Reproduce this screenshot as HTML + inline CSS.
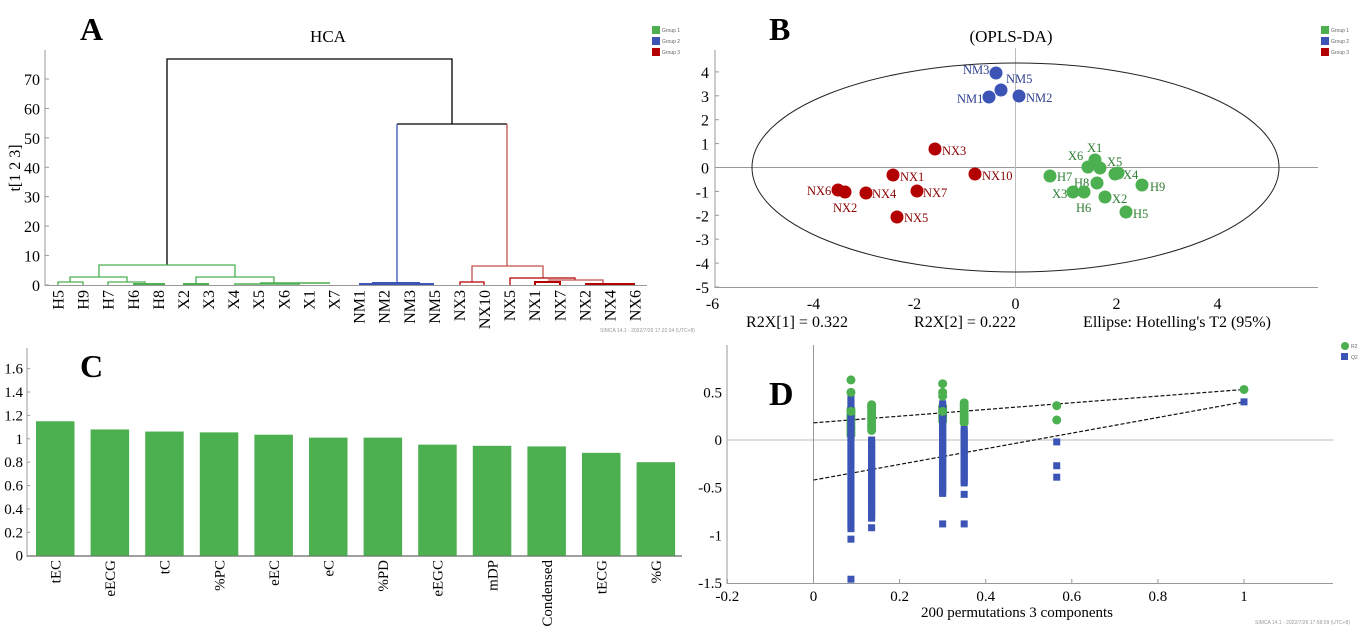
<!DOCTYPE html>
<html><head><meta charset="utf-8">
<style>
html,body{margin:0;padding:0;background:#fff;}
svg{display:block;font-family:"Liberation Serif",serif;}
</style></head>
<body>
<svg id="s" width="1367" height="626" viewBox="0 0 1367 626" xmlns="http://www.w3.org/2000/svg">
<rect width="1367" height="626" fill="#fff"/>

<!-- ===== Panel A ===== -->
<text x="80" y="40" font-size="32" font-weight="bold">A</text>
<text x="328" y="42" font-size="17" text-anchor="middle">HCA</text>
<g font-family="Liberation Sans,sans-serif" font-size="5" fill="#666">
<rect x="652" y="26" width="8" height="8" fill="#4caf50"/><text x="662" y="32">Group 1</text>
<rect x="652" y="37" width="8" height="8" fill="#3b54b5"/><text x="662" y="43">Group 2</text>
<rect x="652" y="48" width="8" height="8" fill="#b30000"/><text x="662" y="54">Group 3</text>
</g>
<line x1="45" y1="50" x2="45" y2="286" stroke="#999" stroke-width="1"/>
<line x1="45" y1="285.5" x2="647" y2="285.5" stroke="#999" stroke-width="1"/>
<g font-size="16" text-anchor="end" id="aticks"></g>
<text transform="translate(20,168) rotate(-90)" font-size="16" text-anchor="middle">t[1 2 3]</text>
<g fill="none" stroke-width="1.3">
<path d="M167 265 V59 H452 V124" stroke="#000"/>
<path d="M397 283 V124 H507 V266" stroke="#000" stroke-width="0"/>
<path d="M397 124 H507" stroke="#000"/>
<path d="M397 124 V283" stroke="#3b54b5"/>
<path d="M507 124 V266" stroke="#c0504d"/>
<path d="M99 277 V265 H235 V277" stroke="#4caf50"/>
<path d="M70 282 V277 H127 V282" stroke="#4caf50"/>
<path d="M58 285 V282 H83 V285" stroke="#4caf50"/>
<path d="M108 285 V282 H145 V285" stroke="#4caf50"/>
<path d="M133 284 H165" stroke="#4caf50" stroke-width="2"/>
<path d="M196 284 V277 H274 V283" stroke="#4caf50"/>
<path d="M184 285 V284 H209" stroke="#4caf50" stroke-width="2"/>
<path d="M234 284 H300 M260 283 H330" stroke="#4caf50" stroke-width="1.6"/>
<path d="M359 284 H434 M372 283 H420" stroke="#3b54b5" stroke-width="2"/>
<path d="M472 282 V266 H543 V278" stroke="#c0504d"/>
<path d="M460 285 V282 H484 V285" stroke="#b30000"/>
<path d="M510 285 V278 H575 V280" stroke="#b30000"/>
<path d="M548 280 H603 V283" stroke="#c0504d"/>
<path d="M535 285 V282 H560 V285" stroke="#b30000" stroke-width="2"/>
<path d="M585 284 H635" stroke="#b30000" stroke-width="2"/>
</g>
<g font-size="16" id="aleaves"></g>
<text x="600" y="332" font-size="5" fill="#999" font-family="Liberation Sans,sans-serif">SIMCA 14.1 - 2022/7/26 17:22:34 (UTC+8)</text>

<!-- ===== Panel B ===== -->
<text x="769" y="40" font-size="32" font-weight="bold">B</text>
<text x="1011" y="42" font-size="17" text-anchor="middle">(OPLS-DA)</text>
<g font-family="Liberation Sans,sans-serif" font-size="5" fill="#666">
<rect x="1321" y="26" width="8" height="8" fill="#4caf50"/><text x="1331" y="32">Group 1</text>
<rect x="1321" y="37" width="8" height="8" fill="#3b54b5"/><text x="1331" y="43">Group 2</text>
<rect x="1321" y="48" width="8" height="8" fill="#b30000"/><text x="1331" y="54">Group 3</text>
</g>
<line x1="715" y1="50" x2="715" y2="288" stroke="#999"/>
<line x1="715" y1="287.5" x2="1318" y2="287.5" stroke="#999"/>
<line x1="715" y1="167.5" x2="1318" y2="167.5" stroke="#999"/>
<line x1="1015.5" y1="48" x2="1015.5" y2="288" stroke="#bbb"/>
<ellipse cx="1015.5" cy="167.5" rx="263.5" ry="104.5" fill="none" stroke="#222" stroke-width="1"/>
<g font-size="16" id="bticks"></g>
<g font-size="16" text-anchor="middle">
<text x="797" y="327">R2X[1] = 0.322</text>
<text x="965" y="327">R2X[2] = 0.222</text>
<text x="1177" y="327">Ellipse: Hotelling's T2 (95%)</text>
</g>
<g id="bpts"></g>

<!-- ===== Panel C ===== -->
<text x="80" y="377" font-size="32" font-weight="bold">C</text>
<line x1="27" y1="348" x2="27" y2="557" stroke="#999"/>
<line x1="27" y1="556" x2="682" y2="556" stroke="#666" stroke-width="1.2"/>
<g font-size="15" id="cticks"></g>
<g id="cbars"></g>

<!-- ===== Panel D ===== -->
<text x="769" y="405" font-size="34" font-weight="bold">D</text>
<g font-family="Liberation Sans,sans-serif" font-size="5" fill="#666">
<circle cx="1345" cy="346" r="4" fill="#4caf50"/><text x="1351" y="348">R2</text>
<rect x="1341" y="353" width="7" height="7" fill="#3b54b5"/><text x="1351" y="359">Q2</text>
</g>
<line x1="727" y1="345" x2="727" y2="584" stroke="#999"/>
<line x1="727" y1="583.5" x2="1333" y2="583.5" stroke="#999"/>
<line x1="727" y1="440" x2="1333" y2="440" stroke="#bbb"/>
<line x1="813.5" y1="345" x2="813.5" y2="584" stroke="#999"/>
<g font-size="15" id="dticks"></g>
<text x="1017" y="617" font-size="15" text-anchor="middle">200 permutations 3 components</text>
<g id="dpts"></g>
<text x="1255" y="624" font-size="5" fill="#999" font-family="Liberation Sans,sans-serif">SIMCA 14.1 - 2022/7/26 17:58:09 (UTC+8)</text>
</svg>
<script>
var NS="http://www.w3.org/2000/svg";
function el(p,t,a,txt){var e=document.createElementNS(NS,t);for(var k in a)e.setAttribute(k,a[k]);if(txt!=null)e.textContent=txt;document.getElementById(p).appendChild(e);return e;}
// A ticks
for(var v=0;v<=70;v+=10){var y=285-v*2.943;el("aticks","text",{x:40,y:y+6},String(v));el("aticks","line",{x1:45,y1:y,x2:49,y2:y,stroke:"#999"});}
var leaves=["H5","H9","H7","H6","H8","X2","X3","X4","X5","X6","X1","X7","NM1","NM2","NM3","NM5","NX3","NX10","NX5","NX1","NX7","NX2","NX4","NX6"];
leaves.forEach(function(n,i){var x=58+25.09*i;el("aleaves","text",{transform:"translate("+(x+5.5)+",290) rotate(-90)","text-anchor":"end"},n);});
// B ticks
for(var v=-5;v<=4;v++){var y=167.5-v*23.9;el("bticks","text",{x:709,y:y+6,"text-anchor":"end"},String(v));el("bticks","line",{x1:715,y1:y,x2:719,y2:y,stroke:"#999"});}
[-6,-4,-2,0,2,4].forEach(function(v){var x=1015.5+v*50.5;el("bticks","text",{x:x,y:309,"text-anchor":"middle"},String(v));});
var B=[["#3b54b5","#2e3f8f",[[996,73,"NM3",963,74],[1001,90,"NM5",1006,83],[989,97,"NM1",957,103],[1019,96,"NM2",1026,102]]],
["#b30000","#8b0000",[[935,149,"NX3",942,155],[893,175,"NX1",900,181],[975,174,"NX10",982,180],[838,190,"NX6",807,195],[845,192,"NX2",833,212],[866,193,"NX4",872,198],[917,191,"NX7",923,197],[897,217,"NX5",904,222]]],
["#4caf50","#2e7d32",[[1050,176,"H7",1057,181],[1088,167,"X6",1068,160],[1095,160,"X1",1087,152],[1100,168,"X5",1107,166],[1115,174,"X4",1123,179],[1118,173,"",0,0],[1142,185,"H9",1150,191],[1097,183,"H8",1074,187],[1073,192,"X3",1052,198],[1084,192,"H6",1076,212],[1105,197,"X2",1112,203],[1126,212,"H5",1133,218]]]];
B.forEach(function(g){g[2].forEach(function(p){el("bpts","circle",{cx:p[0],cy:p[1],r:6.5,fill:g[0]});if(p[2])el("bpts","text",{x:p[3],y:p[4],"font-size":12.5,fill:g[1]},p[2]);});});
// C
for(var i=0;i<=8;i++){var v=i*0.2,y=555.7-v*116.9;el("cticks","text",{x:23,y:y+5,"text-anchor":"end"},i==0?"0":(i==5?"1":v.toFixed(1).replace(/\.0$/,"")));el("cticks","line",{x1:27,y1:y,x2:30,y2:y,stroke:"#999"});}
var cl=["tEC","eECG","tC","%PC","eEC","eC","%PD","eEGC","mDP","Condensed","tECG","%G"],cv=[1.15,1.08,1.062,1.055,1.035,1.01,1.01,0.95,0.94,0.935,0.88,0.80];
cl.forEach(function(n,i){var x=36+54.6*i,h=cv[i]*116.9;el("cbars","rect",{x:x,y:555.7-h,width:38.5,height:h,fill:"#4caf50"});el("cbars","text",{transform:"translate("+(x+24.5)+",560) rotate(-90)","text-anchor":"end","font-size":15},n);});
// D
function dx(v){return 813.5+v*430.5;} function dy(v){return 440-v*95.35;}
[-0.2,0,0.2,0.4,0.6,0.8,1].forEach(function(v){el("dticks","text",{x:dx(v),y:601,"text-anchor":"middle"},String(v).replace("0.","0.").replace(/^-0\./,"-0."));el("dticks","line",{x1:dx(v),y1:583,x2:dx(v),y2:579,stroke:"#999"});});
[0.5,0,-0.5,-1,-1.5].forEach(function(v){el("dticks","text",{x:722,y:dy(v)+5,"text-anchor":"end"},String(v));});
el("dpts","line",{x1:dx(0),y1:dy(0.18),x2:dx(1),y2:dy(0.53),stroke:"#111","stroke-dasharray":"4,2","stroke-width":1.2});
el("dpts","line",{x1:dx(0),y1:dy(-0.42),x2:dx(1),y2:dy(0.40),stroke:"#111","stroke-dasharray":"4,2","stroke-width":1.2});
function greens(x,a,b,step){for(var v=a;v>=b;v-=step)el("dpts","circle",{cx:dx(x),cy:dy(v),r:4.5,fill:"#4caf50"});}
function blues(x,a,b,step){for(var v=a;v>=b;v-=step)el("dpts","rect",{x:dx(x)-3.5,y:dy(v)-3.5,width:7,height:7,fill:"#3b54b5"});}
greens(0.087,0.32,0.05,0.03);greens(0.135,0.37,0.07,0.03);greens(0.30,0.35,0.18,0.03);greens(0.35,0.39,0.15,0.03);
blues(0.087,0.45,-0.95,0.02);blues(0.087,-1.04,-1.04,1);blues(0.087,-1.46,-1.46,1);
blues(0.135,0.0,-0.84,0.02);blues(0.135,-0.92,-0.92,1);
blues(0.30,0.38,-0.58,0.02);blues(0.30,-0.88,-0.88,1);
blues(0.35,0.11,-0.46,0.02);blues(0.35,-0.57,-0.57,1);blues(0.35,-0.88,-0.88,1);
blues(0.565,-0.02,-0.02,1);blues(0.565,-0.27,-0.27,1);blues(0.565,-0.39,-0.39,1);blues(1,0.40,0.40,1);
[[0.087,0.63],[0.087,0.5],[0.087,0.3],[0.30,0.59],[0.30,0.5],[0.30,0.46],[0.30,0.3],[0.565,0.36],[0.565,0.21],[1,0.53]].forEach(function(p){el("dpts","circle",{cx:dx(p[0]),cy:dy(p[1]),r:4.5,fill:"#4caf50"});});
</script>
</body></html>
